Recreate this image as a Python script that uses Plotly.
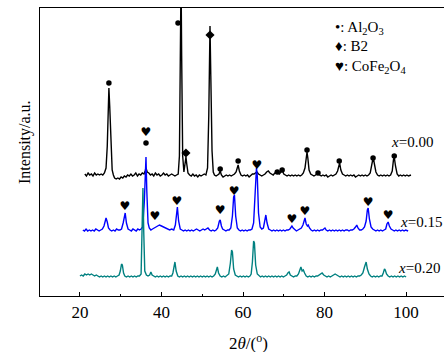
import plotly.graph_objects as go

# ---- data (2theta, relative intensity) ----
black_pts = [(21.2,2),(21.6,0),(22.0,3),(22.4,1),(22.8,2),(23.2,0),(23.6,3),(24.0,1),(24.4,2),(24.8,1),(25.2,2),(25.6,1),(26.0,3),
 (26.4,8),(26.7,30),(27.0,80),(27.1,88),(27.3,70),(27.6,25),(27.9,6),(28.2,1),(28.5,-2),(28.9,-3),(29.3,-2),(29.7,-3),(30.1,-1),
 (30.5,-2),(30.9,0),(31.3,-1),(31.7,1),(32.1,0),(32.5,2),(32.9,0),(33.3,1),(33.7,3),(34.1,0),(34.5,2),(34.9,1),(35.3,3),(35.7,2),
 (36.0,5),(36.2,8),(36.5,4),(36.9,3),(37.3,1),(37.7,2),(38.1,0),(38.5,3),(38.9,1),(39.3,2),(39.7,0),(40.1,1),(40.5,3),(40.9,1),
 (41.3,2),(41.7,0),(42.1,1),(42.5,2),(42.9,1),(43.3,0),(43.7,1),(44.1,2),(44.4,20),(44.65,120),(44.8,200),(44.95,120),(45.2,20),
 (45.5,4),(45.8,12),(46.0,19),(46.2,12),(46.5,3),(46.9,1),(47.3,0),(47.7,2),(48.1,0),(48.5,1),(48.9,-1),(49.3,1),(49.7,0),(50.1,1),
 (50.5,2),(50.9,1),(51.3,8),(51.6,60),(51.8,140),(51.9,150),(52.1,100),(52.4,25),(52.7,4),(53.0,1),(53.4,0),(53.8,1),(54.1,2),
 (54.4,5),(54.7,1),(55.1,-1),(55.5,0),(55.9,1),(56.3,0),(56.7,1),(57.1,0),(57.5,1),(57.9,2),(58.3,4),(58.6,9),(58.8,11),(59.1,5),
 (59.5,1),(59.9,0),(60.3,1),(60.7,0),(61.1,1),(61.5,-1),(61.9,1),(62.3,2),(62.7,2),(63.1,3),(63.4,4),(63.8,2),(64.2,1),(64.6,0),
 (65.0,1),(65.4,2),(65.8,4),(66.2,5),(66.6,3),(67.0,2),(67.4,1),(67.8,3),(68.2,4),(68.5,3),(68.9,2),(69.3,4),(69.6,6),(70.0,2),
 (70.4,1),(70.8,0),(71.2,1),(71.6,0),(72.0,1),(72.4,0),(72.8,1),(73.2,0),(73.6,1),(74.0,0),(74.4,1),(74.8,3),(75.2,8),(75.5,20),
 (75.7,24),(75.9,18),(76.2,6),(76.6,2),(77.0,1),(77.4,0),(77.8,1),(78.1,2),(78.4,3),(78.8,1),(79.2,0),(79.6,1),(80.0,0),(80.4,1),
 (80.8,-1),(81.2,0),(81.6,1),(82.0,0),(82.4,1),(82.8,2),(83.2,5),(83.5,12),(83.7,13),(84.0,6),(84.4,2),(84.8,1),(85.2,0),(85.6,1),
 (86.0,0),(86.4,1),(86.8,0),(87.2,1),(87.6,-1),(88.0,0),(88.4,1),(88.8,0),(89.2,1),(89.6,0),(90.0,1),(90.4,0),(90.8,1),(91.2,3),
 (91.5,10),(91.8,16),(92.0,17),(92.3,12),(92.6,4),(93.0,1),(93.4,0),(93.8,1),(94.2,0),(94.6,1),(95.0,0),(95.4,1),(95.8,0),(96.2,1),
 (96.6,5),(96.9,16),(97.1,19),(97.4,10),(97.8,2),(98.2,0),(98.6,1),(99.0,0),(99.4,1),(99.8,0),(100.2,1),(100.6,0),(101.2,1)]

blue_pts = [(20.7,1),(21.1,0),(21.5,2),(21.9,0),(22.3,1),(22.7,0),(23.1,1),(23.5,0),(23.9,2),(24.3,1),(24.7,0),(25.1,1),(25.5,2),
 (25.9,5),(26.2,11),(26.4,13),(26.7,9),(27.0,3),(27.4,1),(27.8,0),(28.2,1),(28.6,0),(29.0,2),(29.4,1),(29.8,1),(30.2,2),(30.6,8),
 (30.9,17),(31.1,18),(31.4,8),(31.8,2),(32.2,1),(32.6,0),(33.0,2),(33.4,1),(33.8,0),(34.2,2),(34.6,1),(35.0,2),(35.4,4),(35.8,30),
 (36.05,70),(36.2,74),(36.4,40),(36.7,8),(37.0,3),(37.4,1),(37.8,2),(38.2,3),(38.6,4),(39.0,5),(39.5,6),(40.0,5),(40.5,4),(41.0,3),
 (41.5,2),(42.0,1),(42.5,2),(43.0,1),(43.4,6),(43.7,22),(43.9,24),(44.2,10),(44.6,2),(45.0,1),(45.4,0),(45.8,1),(46.2,0),(46.6,1),
 (47.0,0),(47.4,1),(47.8,0),(48.2,1),(48.6,2),(49.0,1),(49.4,0),(49.8,1),(50.2,2),(50.6,1),(51.0,2),(51.4,3),(51.8,1),(52.2,0),
 (52.6,1),(53.0,0),(53.4,1),(53.8,3),(54.2,10),(54.4,11),(54.7,5),(55.0,2),(55.4,1),(55.8,0),(56.2,1),(56.6,1),(57.0,3),(57.4,15),
 (57.7,34),(57.9,36),(58.2,15),(58.6,3),(59.0,1),(59.4,0),(59.8,1),(60.2,0),(60.6,1),(61.0,0),(61.4,1),(61.8,1),(62.2,2),(62.6,8),
 (63.0,40),(63.3,63),(63.5,55),(63.8,18),(64.2,4),(64.6,2),(65.0,3),(65.3,10),(65.6,16),(65.9,8),(66.3,2),(66.7,1),(67.1,0),(67.5,1),
 (67.9,0),(68.3,1),(68.7,0),(69.1,1),(69.5,0),(69.9,1),(70.3,0),(70.7,1),(71.1,1),(71.5,2),(71.8,4),(72.0,5),(72.3,3),(72.7,1),
 (73.1,0),(73.5,1),(73.9,2),(74.3,3),(74.7,6),(75.0,12),(75.2,13),(75.5,7),(75.8,5),(76.0,6),(76.3,3),(76.7,1),(77.1,0),(77.5,1),
 (77.9,0),(78.3,1),(78.7,0),(79.1,1),(79.5,1),(79.8,2),(80.1,3),(80.4,1),(80.8,0),(81.2,1),(81.6,0),(82.0,1),(82.4,0),(82.8,1),
 (83.2,0),(83.6,1),(84.0,0),(84.4,1),(84.8,0),(85.2,1),(85.6,1),(86.0,0),(86.4,1),(86.8,1),(87.2,2),(87.6,4),(87.9,6),(88.2,3),
 (88.6,1),(89.0,1),(89.4,2),(89.8,4),(90.2,10),(90.5,21),(90.7,23),(91.0,12),(91.4,4),(91.8,2),(92.2,1),(92.6,0),(93.0,1),(93.4,0),
 (93.8,1),(94.2,0),(94.6,1),(95.0,2),(95.3,7),(95.6,9),(95.9,5),(96.3,2),(96.7,1),(97.1,0),(97.5,1),(97.9,0),(98.3,1),(98.7,0),
 (99.1,1),(99.5,0),(99.9,1),(100.5,0)]

teal_pts = [(20.0,1),(20.4,2),(20.8,1),(21.2,3),(21.6,2),(22.0,3),(22.4,2),(22.8,3),(23.2,2),(23.6,1),(24.0,2),(24.4,1),(24.8,0),
 (25.2,1),(25.6,0),(26.0,1),(26.4,0),(26.8,1),(27.2,0),(27.6,1),(28.0,0),(28.4,1),(28.8,0),(29.2,1),(29.6,2),(29.9,6),(30.2,13),
 (30.4,12),(30.7,4),(31.0,1),(31.4,0),(31.8,1),(32.2,0),(32.6,1),(33.0,0),(33.4,1),(33.8,0),(34.2,1),(34.6,1),(35.0,3),(35.25,40),
 (35.45,89),(35.65,45),(35.9,6),(36.3,2),(36.7,1),(37.1,2),(37.4,5),(37.7,2),(38.1,1),(38.5,0),(38.9,1),(39.3,0),(39.7,1),(40.1,0),
 (40.5,1),(40.9,0),(41.3,1),(41.7,0),(42.1,1),(42.5,1),(42.8,4),(43.1,13),(43.3,15),(43.6,6),(44.0,1),(44.4,0),(44.8,1),(45.2,0),
 (45.6,1),(46.0,0),(46.4,1),(46.8,0),(47.2,1),(47.6,0),(48.0,1),(48.4,0),(48.8,1),(49.2,0),(49.6,1),(50.0,0),(50.4,1),(50.8,0),
 (51.2,1),(51.6,0),(52.0,1),(52.4,0),(52.8,1),(53.2,3),(53.5,9),(53.7,10),(54.0,4),(54.4,1),(54.8,0),(55.2,1),(55.6,0),(56.0,1),
 (56.5,3),(56.9,14),(57.2,27),(57.4,25),(57.7,8),(58.1,2),(58.5,1),(58.9,0),(59.3,1),(59.7,0),(60.1,1),(60.5,0),(60.9,1),(61.3,0),
 (61.7,1),(62.0,3),(62.3,15),(62.6,36),(62.8,34),(63.1,12),(63.5,3),(63.9,1),(64.3,0),(64.7,1),(65.1,0),(65.5,1),(65.9,0),(66.3,1),
 (66.7,0),(67.1,1),(67.5,0),(67.9,1),(68.3,0),(68.7,1),(69.1,0),(69.5,1),(69.9,0),(70.3,1),(70.7,2),(71.0,4),(71.3,5),(71.6,2),
 (72.0,1),(72.4,0),(72.8,1),(73.2,1),(73.6,3),(73.9,8),(74.2,10),(74.5,6),(74.8,7),(75.1,4),(75.5,1),(75.9,0),(76.3,1),(76.7,0),
 (77.1,1),(77.5,0),(77.9,1),(78.3,1),(78.7,2),(79.1,3),(79.4,4),(79.8,2),(80.2,1),(80.6,0),(81.0,1),(81.4,0),(81.8,1),(82.2,2),
 (82.6,3),(83.0,2),(83.4,1),(83.8,0),(84.2,1),(84.6,0),(85.0,1),(85.4,0),(85.8,1),(86.2,0),(86.6,1),(87.0,0),(87.4,1),(87.8,0),
 (88.2,1),(88.6,1),(89.0,2),(89.4,4),(89.8,10),(90.0,14),(90.2,15),(90.5,8),(90.9,3),(91.3,1),(91.7,0),(92.1,1),(92.5,0),(92.9,1),
 (93.3,0),(93.7,1),(94.1,1),(94.4,4),(94.7,8),(94.9,7),(95.2,3),(95.6,1),(96.0,0),(96.4,1),(96.8,0),(97.2,1),(97.6,0),(98.0,1),
 (98.4,0),(98.8,1),(99.2,0),(99.6,1),(100.0,0)]

offsets = {"black": 120, "blue": 65, "teal": 19}
series_labels = ["x=0.00", "x=0.15", "x=0.20"]

# phase markers (2theta, height on stacked scale)
al2o3_pts = [(27.1,213),(36.2,153),(44.05,273),(54.4,127),(58.8,135),(68.4,124),(69.6,126),(75.7,146),(78.4,123),(83.6,135),(91.9,138),(97.1,140)]
b2_pts = [(46.0,143),(51.9,261)]
cofe2o4_pts = [(36.2,163),(63.4,130),(31.0,89),(38.4,79),(43.8,94),(54.4,85),(57.8,104),(72.0,76),(75.2,84),(90.7,93),(95.6,80)]

SERIF = "Liberation Serif, Times New Roman, serif"

fig = go.Figure()
for pts, name, color in [(black_pts, "black", "#000000"), (blue_pts, "blue", "#0000FF"), (teal_pts, "teal", "#008080")]:
    fig.add_trace(go.Scatter(x=[p[0] for p in pts], y=[p[1] + offsets[name] for p in pts], mode="lines",
                             line=dict(color=color, width=1.4), showlegend=False, hoverinfo="skip"))

fig.add_trace(go.Scatter(x=[p[0] for p in al2o3_pts], y=[p[1] for p in al2o3_pts], mode="markers",
                         marker=dict(symbol="circle", size=5.5, color="black"), showlegend=False))
fig.add_trace(go.Scatter(x=[p[0] for p in b2_pts], y=[p[1] for p in b2_pts], mode="markers",
                         marker=dict(symbol="diamond", size=7, color="black"), showlegend=False))
fig.add_trace(go.Scatter(x=[p[0] for p in cofe2o4_pts], y=[p[1] for p in cofe2o4_pts], mode="text",
                         text=["♥"] * len(cofe2o4_pts), textposition="middle center",
                         textfont=dict(family="DejaVu Sans", size=12, color="black"), showlegend=False))

# legend text
legend_lines = ["•: Al<sub>2</sub>O<sub>3</sub>", "♦: B2", "♥: CoFe<sub>2</sub>O<sub>4</sub>"]
legend_y = [268, 250, 229]
for txt, yy in zip(legend_lines, legend_y):
    fig.add_annotation(x=82.0, y=yy, xref="x", yref="y", text=txt, showarrow=False, xanchor="left",
                       yanchor="middle", font=dict(family=SERIF, size=15, color="black"))

label_pos = [(95.8, 154), (98.0, 74), (97.5, 28)]
for lab, (lx, ly) in zip(series_labels, label_pos):
    fig.add_annotation(x=lx, y=ly, xref="x", yref="y", text="<i>x</i>=" + lab.split("=")[1], showarrow=False,
                       xanchor="left", yanchor="middle", font=dict(family=SERIF, size=15, color="black"))

fig.add_annotation(x=-0.037, y=0.535, xref="paper", yref="paper", text="Intensity/a.u.", textangle=-90,
                   xanchor="center", yanchor="middle",
                   showarrow=False, font=dict(family=SERIF, size=16, color="black"))
fig.add_annotation(x=0.515, y=-0.16, xref="paper", yref="paper", text="2<i>θ</i>/(<sup>o</sup>)",
                   xanchor="center", yanchor="middle",
                   showarrow=False, font=dict(family=SERIF, size=17, color="black"))

fig.update_layout(
    width=444, height=352, margin=dict(l=40, r=0, t=8, b=56),
    paper_bgcolor="white", plot_bgcolor="white",
    xaxis=dict(range=[10.2, 109.3], tickmode="linear", tick0=0, dtick=20, ticks="inside", ticklen=4,
               tickcolor="black", tickwidth=1.2, showline=True, linecolor="black", linewidth=1.3, mirror=True,
               showgrid=False, zeroline=False, tickfont=dict(family=SERIF, size=17, color="black"),
               minor=dict(dtick=10, tick0=0, ticks="inside", ticklen=2, tickcolor="black", tickwidth=1.2)),
    yaxis=dict(range=[0, 288], showticklabels=False, ticks="", showline=True, linecolor="black", linewidth=1.3,
               mirror=False, showgrid=False, zeroline=False),
)

fig.write_html("out.html")
